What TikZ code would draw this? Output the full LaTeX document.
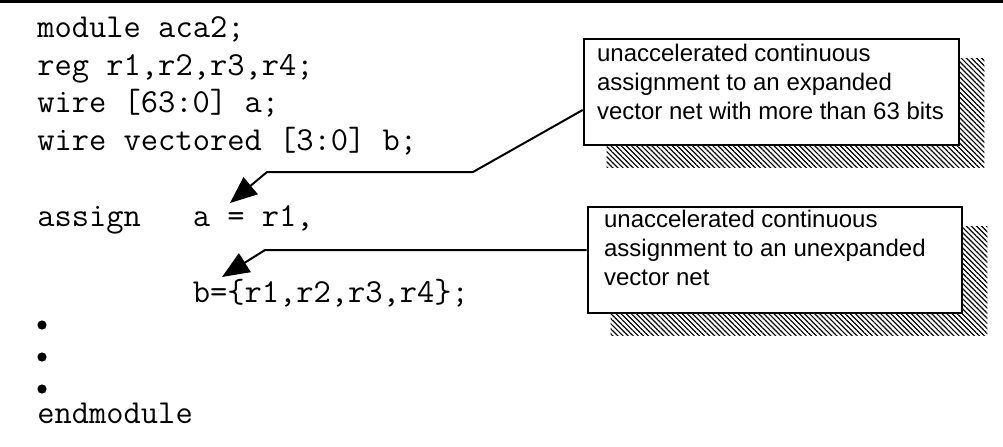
\documentclass[tikz,border=0pt]{standalone}
\usepackage{fontspec}
\setmainfont{Liberation Sans}
\usetikzlibrary{positioning}
\usetikzlibrary{calc}
\usetikzlibrary{arrows.meta}
\usetikzlibrary{patterns.meta}
\usetikzlibrary{backgrounds}

\tikzset{
  code/.style={anchor=base west, inner sep=0pt, font=\ttfamily\fontsize{16.76}{19}\selectfont},
  notebox/.style={draw, line width=1.3pt, fill=white, minimum width=187.5pt, minimum height=53pt, inner sep=0pt},
  notetext/.style={anchor=base west, inner sep=0pt, align=left, font=\fontsize{12}{14.5}\selectfont},
  hatch/.style={pattern={Lines[angle=-45,distance=1.8pt,line width=0.6pt]}},
  callout/.style={line width=1pt, -{Triangle[length=13.5pt,width=11pt]}}
}

\begin{document}
\begin{tikzpicture}[x=0.5pt,y=-0.5pt]
\useasboundingbox (0,0) rectangle (1003,446);
\draw[line width=1.5pt] (0,1.5) -- (1003,1.5);

\node[code] (lmodule) at (37,37) {module aca2;};
\node[code] (lreg) at (37,75) {reg r1,r2,r3,r4;};
\node[code] (lwirea) at (37,112.5) {wire [63:0] a;};
\node[code] (lwireb) at (37,150) {wire vectored [3:0] b;};
\node[code] (lassign) at (37,226) {assign\ \ \ a = r1,};
\node[code] (lb) at (37,302) {\ \ \ \ \ \ \ \ \ b=\{r1,r2,r3,r4\};};
\foreach \y in {325,357,389}
  \fill (42,\y) circle (2.3pt);
\node[code] (lend) at (37,423) {endmodule};

\node[notebox] (n1) at (771.5,92) {};
\node[notetext] (t1) at ($(n1.north west)+(14,82)$) {unaccelerated continuous\\assignment to an expanded\\vector net with more than 63 bits};
\node[notebox, minimum width=187pt] (n2) at (775,260) {};
\node[notetext] (t2) at ($(n2.north west)+(17,80)$) {unaccelerated continuous\\assignment to an unexpanded\\vector net};

\begin{scope}[on background layer]
\fill[hatch] ($(n1.south west)+(24,21)$) rectangle ($(n1.north east)+(24,21)$);
\fill[hatch] ($(n2.south west)+(24,21)$) rectangle ($(n2.north east)+(24,21)$);
\end{scope}

\coordinate (tipa) at (230,203);
\coordinate (tipb) at (222,277);
\draw[callout] ($(n1.west)+(0,18)$) -- (473,172) -- (267,172) -- (tipa);
\draw[callout] ($(n2.west)+(0,-10)$) -- (265,250) -- (tipb);
\end{tikzpicture}
\end{document}
